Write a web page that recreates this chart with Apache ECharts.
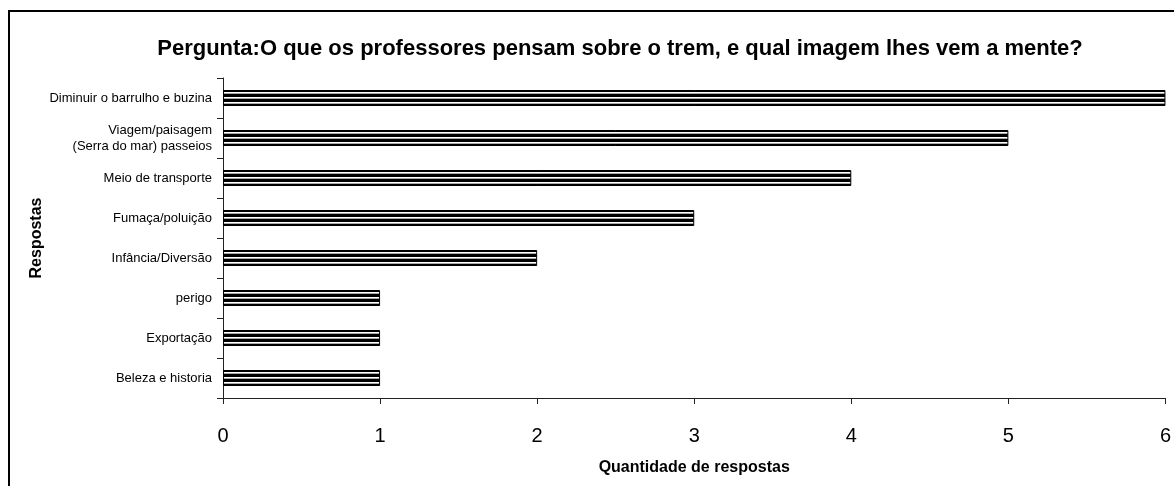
<!DOCTYPE html>
<html>
<head>
<meta charset="utf-8">
<script src="https://cdn.jsdelivr.net/npm/echarts@6/dist/echarts.min.js"></script>
<style>html,body{margin:0;padding:0;background:#fff;}#c{width:1174px;height:486px;}</style>
</head>
<body>
<div id="c"></div>
<script>
var categories = ['Beleza e historia', 'Exportação', 'perigo', 'Infância/Diversão', 'Fumaça/poluição', 'Meio de transporte', 'Viagem/paisagem\n(Serra do mar) passeios', 'Diminuir o barrulho e buzina'];
var values = [1, 1, 1, 2, 3, 4, 5, 6];
var xTicks = [0, 1, 2, 3, 4, 5, 6];
var titleText = 'Pergunta:O que os professores pensam sobre o trem, e qual imagem lhes vem a mente?';

// stripe pattern for a 16px bar (pixel rows)
var rows = [[0, 2, '#000'], [2, 3, '#fff'], [3, 4, '#aaa'], [4, 7, '#000'], [7, 8, '#fff'], [8, 9, '#aaa'], [9, 12, '#000'], [12, 13, '#fff'], [13, 14, '#aaa'], [14, 16, '#000']];
var stops = [];
rows.forEach(function (r) {
  stops.push({offset: r[0] / 16, color: r[2]});
  stops.push({offset: r[1] / 16, color: r[2]});
});
var stripe = new echarts.graphic.LinearGradient(0, 0, 0, 1, stops);

var chart = echarts.init(document.getElementById('c'), null, {renderer: 'canvas'});
chart.setOption({
  animation: false,
  textStyle: {fontFamily: 'Liberation Sans, Arial, sans-serif'},
  title: {
    text: titleText, left: 615, top: 33, textAlign: 'center',
    textStyle: {fontFamily: 'Liberation Sans', fontWeight: 'bold', fontSize: 22, color: '#000'}
  },
  graphic: [{
    type: 'rect', shape: {x: 9, y: 11, width: 1200, height: 500},
    style: {fill: 'none', stroke: '#000', lineWidth: 2}, silent: true
  }],
  grid: {left: 223, right: 8, top: 78, bottom: 88, containLabel: false},
  xAxis: {
    type: 'value', min: 0, max: 6, interval: 1,
    name: 'Quantidade de respostas', nameLocation: 'middle', nameGap: 62,
    nameMoveOverlap: false,
    nameTextStyle: {fontFamily: 'Liberation Sans', fontWeight: 'bold', fontSize: 16, color: '#000'},
    axisLine: {show: true, lineStyle: {color: '#222', width: 1}},
    axisTick: {show: true, length: 6, lineStyle: {color: '#222'}},
    splitLine: {show: false},
    axisLabel: {fontFamily: 'Liberation Sans', fontSize: 20, color: '#000', margin: 28,
      formatter: function (v) { return xTicks.indexOf(v) >= 0 ? String(v) : ''; }}
  },
  yAxis: {
    type: 'category', data: categories,
    name: 'Respostas', nameLocation: 'middle', nameGap: 178, nameRotate: 90,
    nameMoveOverlap: false,
    nameTextStyle: {fontFamily: 'Liberation Sans', fontWeight: 'bold', fontSize: 16, color: '#000'},
    axisLine: {show: true, lineStyle: {color: '#222', width: 1}},
    axisTick: {show: true, length: 6, alignWithLabel: false, lineStyle: {color: '#222'}},
    axisLabel: {fontFamily: 'Liberation Sans', fontSize: 13, color: '#000', margin: 11, align: 'right', lineHeight: 16},
    splitLine: {show: false}
  },
  series: [{
    type: 'bar', data: values, barWidth: 16,
    itemStyle: {color: stripe, borderColor: '#000', borderWidth: 1}
  }]
});
</script>
</body>
</html>
